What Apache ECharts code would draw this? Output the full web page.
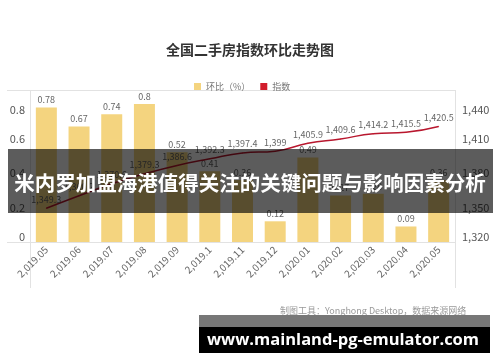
<!DOCTYPE html>
<html>
<head>
<meta charset="utf-8">
<script src="https://cdn.jsdelivr.net/npm/echarts@6/dist/echarts.min.js"></script>
<style>
html,body{margin:0;padding:0;background:#fff;}
#chart{width:500px;height:362px;}
</style>
</head>
<body>
<div id="chart"></div>
<script>
var categories = ['2,019.05','2,019.06','2,019.07','2,019.08','2,019.09','2,019.1','2,019.11','2,019.12','2,020.01','2,020.02','2,020.03','2,020.04','2,020.05'];
var momValues = [0.78, 0.67, 0.74, 0.8, 0.52, 0.41, 0.36, 0.12, 0.49, 0.27, 0.28, 0.09, 0.36];
var indexValues = [1349.3, 1360.2, 1370.6, 1379.3, 1386.6, 1392.3, 1397.4, 1399, 1405.9, 1409.6, 1414.2, 1415.5, 1420.5];
var leftTicks = { min: 0, max: 0.8, interval: 0.2 };
var rightTicks = { min: 1320, max: 1440, interval: 30 };
var titleText = '全国二手房指数环比走势图';
var seriesNames = ['环比（%）', '指数'];
var sourceText = '制图工具：Yonghong Desktop，数据来源网络';
var overlayText = '米内罗加盟海港值得关注的关键问题与影响因素分析';
var watermarkText = 'www.mainland-pg-emulator.com';

function fmt(v){ return Number(v).toLocaleString('en-US', {maximumFractionDigits: 2}); }

var chart = echarts.init(document.getElementById('chart'), null, {renderer:'canvas'});
var frameColor = '#e2e2e2';
var font = '"Microsoft YaHei","Noto Sans CJK SC","Noto Sans",sans-serif';
chart.setOption({
  animation: false,
  backgroundColor: '#fff',
  textStyle: { fontFamily: font },
  title: {
    text: titleText, left: 'center', top: 38,
    textStyle: { fontSize: 14, fontWeight: 'bold', color: '#333', fontFamily: font }
  },
  legend: {
    data: seriesNames, top: 77, left: 189, itemWidth: 7, itemHeight: 7, itemGap: 10,
    icon: 'rect',
    textStyle: { fontSize: 9, color: '#777', fontFamily: font }
  },
  grid: { left: 30, right: 45, top: 104, bottom: 120 },
  xAxis: {
    type: 'category', data: categories,
    axisLine: { show: false }, axisTick: { show: false },
    axisLabel: { rotate: 45, fontSize: 10, color: '#666', margin: 6, interval: 0 }
  },
  yAxis: [
    { type: 'value', min: leftTicks.min, max: leftTicks.max, interval: leftTicks.interval,
      splitLine: { show: false }, axisLine: { show: false }, axisTick: { show: false },
      axisLabel: { fontSize: 11, color: '#555', margin: 5, formatter: fmt,
        verticalAlignMaxLabel: 'top', verticalAlignMinLabel: 'bottom' } },
    { type: 'value', min: rightTicks.min, max: rightTicks.max, interval: rightTicks.interval,
      splitLine: { show: false }, axisLine: { show: false }, axisTick: { show: false },
      axisLabel: { fontSize: 11, color: '#555', margin: 7, formatter: fmt,
        verticalAlignMaxLabel: 'top', verticalAlignMinLabel: 'bottom' } }
  ],
  series: [
    { name: seriesNames[0], type: 'bar', data: momValues, barWidth: 21, yAxisIndex: 0,
      itemStyle: { color: '#f4d47f' },
      label: { show: true, position: 'top', fontSize: 9, color: '#666', distance: 3, formatter: function(p){return fmt(p.value);} } },
    { name: seriesNames[1], type: 'line', data: indexValues, yAxisIndex: 1, smooth: true,
      symbol: 'circle', symbolSize: 1, showSymbol: true,
      lineStyle: { color: '#b8172e', width: 1.5 }, itemStyle: { color: '#d21d2c' },
      label: { show: true, position: 'top', fontSize: 9, color: '#666', distance: 4, formatter: function(p){return fmt(p.value);} } }
  ],
  graphic: [
    { type: 'line', shape: { x1: 7, y1: 90.5, x2: 455, y2: 90.5 }, style: { stroke: frameColor, lineWidth: 1 }, z: 0 },
    { type: 'line', shape: { x1: 7, y1: 242.5, x2: 455, y2: 242.5 }, style: { stroke: frameColor, lineWidth: 1 }, z: 0 },
    { type: 'line', shape: { x1: 30.5, y1: 90, x2: 30.5, y2: 288 }, style: { stroke: frameColor, lineWidth: 1 }, z: 0 },
    { type: 'line', shape: { x1: 455.5, y1: 90, x2: 455.5, y2: 288 }, style: { stroke: frameColor, lineWidth: 1 }, z: 0 },
    { type: 'text', left: 280, top: 306, z: 10,
      style: { text: sourceText, fontSize: 9, fill: '#999', fontFamily: font } },
    { type: 'rect', shape: { x: 8, y: 149, width: 485, height: 64 }, style: { fill: 'rgba(0,0,0,0.64)' }, z: 100 },
    { type: 'text', x: 250, y: 183, z: 101,
      style: { text: overlayText, fontSize: 20.5, fontWeight: 'bold', fill: '#fff', align: 'center', verticalAlign: 'middle', fontFamily: font } },
    { type: 'rect', shape: { x: 199, y: 315, width: 291, height: 12 }, style: { fill: '#777' }, z: 100 },
    { type: 'rect', shape: { x: 199, y: 327, width: 291, height: 26 }, style: { fill: '#000' }, z: 100 },
    { type: 'text', x: 343, y: 340, z: 101,
      style: { text: watermarkText, fontSize: 16.5, fontWeight: 'bold', fill: '#fff', align: 'center', verticalAlign: 'middle', fontFamily: '"Open Sans","DejaVu Sans",sans-serif' } }
  ]
});
</script>
</body>
</html>
